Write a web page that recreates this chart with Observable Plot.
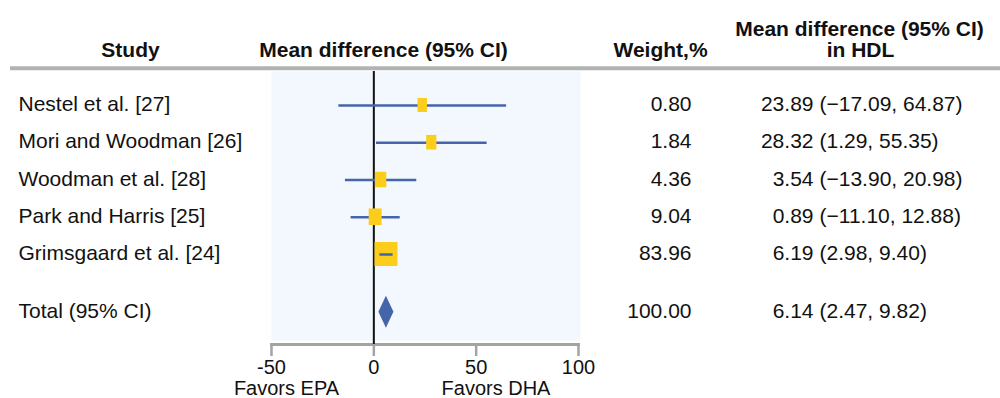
<!DOCTYPE html>
<html>
<head>
<meta charset="utf-8">
<script src="https://cdn.jsdelivr.net/npm/d3@7"></script>
<script src="https://cdn.jsdelivr.net/npm/@observablehq/plot@0.6"></script>
<style>
  html, body { margin: 0; padding: 0; background: #fff; }
  #chart svg { display: block; }
</style>
</head>
<body>
<div id="chart"></div>
<script>
// ---------- data ----------
const studies = ["Nestel et al. [27]", "Mori and Woodman [26]", "Woodman et al. [28]", "Park and Harris [25]", "Grimsgaard et al. [24]"];
const meanDiff = [23.89, 28.32, 3.54, 0.89, 6.19];
const ciLow = [-17.09, 1.29, -13.90, -11.10, 2.98];
const ciHigh = [64.87, 55.35, 20.98, 12.88, 9.40];
const weights = [0.80, 1.84, 4.36, 9.04, 83.96];

const totalLabel = "Total (95% CI)";
const totalMean = 6.14;
const totalLow = 2.47;
const totalHigh = 9.82;
const totalWeight = 100.00;

const xTicks = [-50, 0, 50, 100];
const xDomain = [-50, 100];
const favorsLabels = ["Favors EPA", "Favors DHA"];
const headerStudy = "Study";
const headerForest = "Mean difference (95% CI)";
const headerWeight = "Weight,%";
const headerHdl = ["Mean difference (95% CI)", "in HDL"];

// ---------- layout ----------
const W = 1000, H = 398;
const mL = 271, mR = 422, mB = 54;
const rowPx = 37.25;           // pixels per row
const pxPerUnit = (W - mL - mR) / (xDomain[1] - xDomain[0]);
const FONT = "'Liberation Sans', Arial, Helvetica, sans-serif";
const YELLOW = "#fdcd1b";
const BLUE = "#4465a9";

const rows = studies.map((s, i) => ({study: s, md: meanDiff[i], lo: ciLow[i], hi: ciHigh[i], w: weights[i], row: i}));
const total = {study: totalLabel, md: totalMean, lo: totalLow, hi: totalHigh, w: totalWeight, row: studies.length + 0.55};
const allRows = [...rows, total];

const wMax = d3.max(weights);
const boxW = w => 8 + 15 * Math.sqrt(w / wMax);
const boxH = w => 13 + 11 * Math.sqrt(w / wMax);
const fmt = v => v.toFixed(2).replace("-", "\u2212");
const diamondHalf = 16 / rowPx;
const diamond = [
  {x: total.lo, y1: total.row, y2: total.row},
  {x: total.md, y1: total.row - diamondHalf, y2: total.row + diamondHalf},
  {x: total.hi, y1: total.row, y2: total.row}
];
const inside = rows.filter(d => (d.hi - d.lo) * pxPerUnit < boxW(d.w));

const txt = {fontSize: 21, fill: "#111"};
const head = {frameAnchor: "top-left", lineAnchor: "middle", textAnchor: "middle", fontWeight: "bold", text: d => d, ...txt};
const foot = {frameAnchor: "bottom-left", lineAnchor: "middle", textAnchor: "middle", text: d => d, fontSize: 20, fill: "#111"};

const chart = Plot.plot({
  width: W,
  height: H,
  marginLeft: mL,
  marginRight: mR,
  marginTop: 0,
  marginBottom: mB,
  style: {fontFamily: FONT, background: "#fff", overflow: "visible"},
  x: {domain: xDomain, label: null},
  y: {domain: [0, 4], range: [105, 105 + 4 * rowPx], axis: null},
  marks: [
    // shaded forest panel
    Plot.frame({fill: "#f2f8fd", stroke: null, insetTop: 71, insetBottom: 4, insetRight: -2}),
    // header rule
    Plot.ruleY([-1], {stroke: "#b2b2b2", strokeWidth: 4, insetLeft: -(mL - 10), insetRight: -mR}),
    // axis line
    Plot.frame({anchor: "bottom", stroke: "#a3a3a3", strokeWidth: 3}),
    Plot.axisX({ticks: xTicks, tickSize: 12, tickPadding: 3, tickFormat: d => String(d),
      stroke: "#a3a3a3", strokeWidth: 2.5, fill: "#111", fontSize: 20, label: null}),
    // zero line
    Plot.ruleX([0], {stroke: "#111", strokeWidth: 2, insetTop: 71}),
    // confidence intervals
    Plot.ruleY(rows, {y: "row", x1: "lo", x2: "hi", stroke: BLUE, strokeWidth: 2.5}),
    // weight boxes
    Plot.rect(rows, {
      x1: d => d.md - boxW(d.w) / 2 / pxPerUnit,
      x2: d => d.md + boxW(d.w) / 2 / pxPerUnit,
      y1: d => d.row - boxH(d.w) / 2 / rowPx,
      y2: d => d.row + boxH(d.w) / 2 / rowPx,
      fill: YELLOW
    }),
    Plot.ruleY(inside, {y: "row", x1: "lo", x2: "hi", stroke: BLUE, strokeWidth: 2.5}),
    // pooled diamond
    Plot.areaY(diamond, {x: "x", y1: "y1", y2: "y2", fill: BLUE}),
    // table columns
    Plot.text(allRows, {y: "row", text: "study", frameAnchor: "left", dx: 18 - mL, textAnchor: "start", dy: -1, ...txt}),
    Plot.text(allRows, {y: "row", text: d => d.w.toFixed(2), frameAnchor: "left", dx: 691 - mL, textAnchor: "end", dy: -1, ...txt}),
    Plot.text(allRows, {y: "row", text: d => d.md.toFixed(2), frameAnchor: "left", dx: 813 - mL, textAnchor: "end", dy: -1, ...txt}),
    Plot.text(allRows, {y: "row", text: d => `(${fmt(d.lo)}, ${fmt(d.hi)})`, frameAnchor: "left", dx: 819 - mL, textAnchor: "start", dy: -1, ...txt}),
    // headers
    Plot.text([headerStudy], {...head, dx: 130 - mL, dy: 49.5}),
    Plot.text([headerForest], {...head, dx: 383 - mL, dy: 49.5}),
    Plot.text([headerWeight], {...head, dx: 660 - mL, dy: 49.5}),
    Plot.text([headerHdl[0]], {...head, dx: 859 - mL, dy: 28.5}),
    Plot.text([headerHdl[1]], {...head, dx: 860 - mL, dy: 49.5}),
    // favors labels
    Plot.text([favorsLabels[0]], {...foot, dx: 286 - mL, dy: 44.5}),
    Plot.text([favorsLabels[1]], {...foot, dx: 495.5 - mL, dy: 44.5})
  ]
});
document.getElementById("chart").appendChild(chart);
</script>
</body>
</html>
